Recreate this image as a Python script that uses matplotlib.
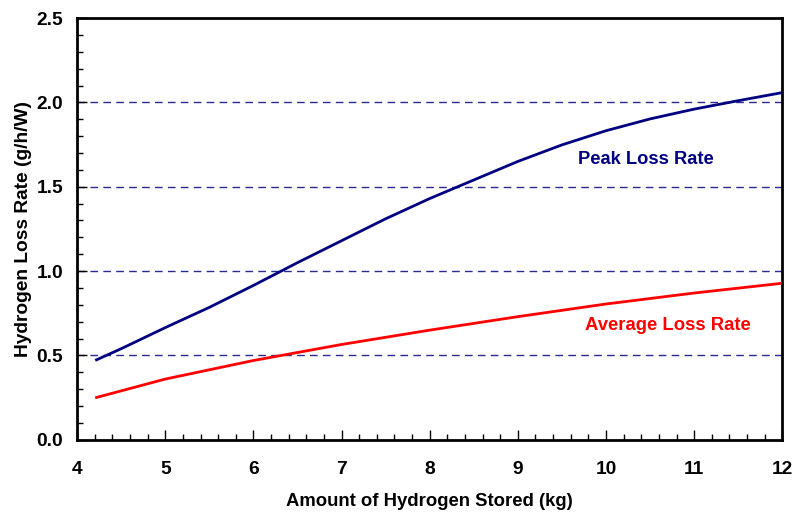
import matplotlib
matplotlib.use("Agg")
import matplotlib.pyplot as plt
from matplotlib.ticker import MultipleLocator

plt.rcParams['font.family'] = ['Liberation Sans', 'DejaVu Sans']
plt.rcParams['font.weight'] = 'bold'

# values
peak_x = [4.22, 4.5, 5.0, 5.5, 6.0, 6.5, 7.0, 7.5, 8.0, 8.5, 9.0, 9.5, 10.0, 10.5, 11.0, 11.5, 12.0]
peak_y = [0.474, 0.54, 0.665, 0.785, 0.915, 1.05, 1.18, 1.31, 1.43, 1.54, 1.65, 1.748, 1.832, 1.902, 1.96, 2.01, 2.058]

avg_x = [4.22, 5.0, 6.0, 7.0, 8.0, 9.0, 10.0, 11.0, 12.0]
avg_y = [0.251, 0.36, 0.47, 0.565, 0.65, 0.73, 0.805, 0.87, 0.928]

fig, ax = plt.subplots(figsize=(7.95, 5.15), dpi=100)
fig.subplots_adjust(left=0.097, right=0.984, top=0.965, bottom=0.146)

for y in [0.5, 1.0, 1.5, 2.0]:
    ax.axhline(y, color='#2a2a90', lw=1, dashes=(5.5, 3.8), zorder=1)

ax.plot(peak_x, peak_y, color='#000080', lw=2, zorder=3)
ax.plot(avg_x, avg_y, color='#ff0000', lw=2, zorder=3)

ax.text(10.45, 1.66, 'Peak Loss Rate', color='#000080', fontsize=13.2,
        fontweight='bold', ha='center', va='center')
ax.text(10.7, 0.675, 'Average Loss Rate', color='#ff0000', fontsize=13.3,
        fontweight='bold', ha='center', va='center')

ax.set_xlim(4, 12)
ax.set_ylim(0, 2.5)
ax.xaxis.set_major_locator(MultipleLocator(1))
ax.xaxis.set_minor_locator(MultipleLocator(0.2))
ax.yaxis.set_major_locator(MultipleLocator(0.5))
ax.yaxis.set_minor_locator(MultipleLocator(0.1))
ax.yaxis.set_major_formatter(plt.FormatStrFormatter('%.1f'))
ax.tick_params(which='both', direction='in', labelsize=13.8, width=1)
ax.tick_params(which='major', length=7)
ax.tick_params(axis='x', which='major', pad=15)
ax.tick_params(axis='y', which='major', pad=10)
ax.tick_params(which='minor', length=4)
for s in ax.spines.values():
    s.set_linewidth(2)

ax.set_xlabel('Amount of Hydrogen Stored (kg)', fontsize=13.3, fontweight='bold', labelpad=11)
ax.set_ylabel('Hydrogen Loss Rate (g/h/W)', fontsize=13.8, fontweight='bold', labelpad=3)

fig.savefig('out.png', dpi=100)
